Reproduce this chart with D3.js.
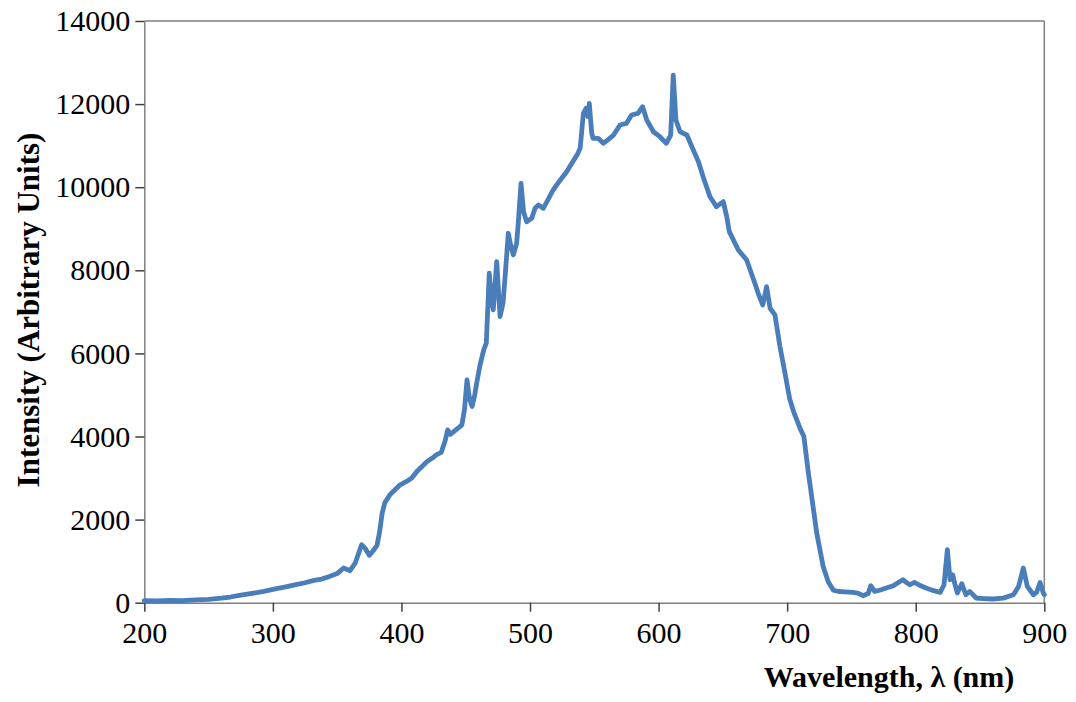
<!DOCTYPE html>
<html>
<head>
<meta charset="utf-8">
<script src="https://cdn.jsdelivr.net/npm/d3@7"></script>
<style>
  html, body { margin: 0; padding: 0; background: #fff; }
  svg { display: block; }
  text { font-family: "Liberation Serif", "Times New Roman", serif; fill: #000; }
</style>
</head>
<body>
<svg id="chart" width="1076" height="702"></svg>
<script>
const wavelengths = [200,210,220,230,240,250,260,267,275,285,293,300,310,318,325,332,338,344,350,355,360,364,369,372,375,378,381,383,385,387,391,395,399,404,408,412,416,420,424,427,431,434,436,438,440,444,447,449,451,453,455,457,458.5,461,464,466,468.3,470,471.4,474.1,476.7,479,481,483.1,485,487,489.6,491,493,495,497.4,501.3,504,506.5,510.3,514,518,523,528.5,533,537,539,541.5,543.6,545,546.1,548,549,553,557,561,565,570,575,579,584,587.6,590.8,596,601,606,609.4,611.4,613.5,616.7,622,627,631,635,640,645,648,650.3,653,655,662,668.5,674,678,681,684,686.7,690.5,694.4,698.3,702,705,710,713,716.5,718,723,728,732,736,740,745,751,755,759,763,765,768,772,777,782,785,790,793,795.5,799,803,808,814,819,822,824.6,826.7,828.8,830,832.4,835.8,839,842,847,853,860,868,876,880,883.7,886.8,891.5,894,896.7,899,900];
const intensities = [50,45,55,50,70,80,110,137,180,230,272,320,380,433,480,537,570,633,700,834,770,950,1395,1300,1140,1250,1380,1700,2157,2400,2600,2720,2838,2918,3000,3158,3280,3398,3480,3559,3620,3900,4160,4050,4100,4200,4281,4640,5360,4900,4720,5000,5280,5700,6085,6245,7930,7300,7050,8210,6886,7208,8000,8891,8600,8370,8651,9200,10094,9400,9170,9251,9500,9572,9492,9700,9933,10150,10373,10600,10800,10935,11777,11897,11700,12017,11300,11176,11176,11056,11150,11256,11496,11537,11737,11777,11937,11616,11335,11215,11056,11256,12698,11616,11335,11256,10895,10614,10214,9772,9531,9600,9652,9291,8930,8490,8249,7768,7400,7167,7607,7087,6926,6164,5524,4900,4600,4200,4000,3119,2797,1676,873,500,300,270,260,248,230,168,220,409,272,300,352,400,457,553,480,433,488,420,353,290,248,433,1275,553,673,500,233,457,192,272,113,100,89,110,192,392,834,392,192,250,488,250,192];
const xTicks = [200,300,400,500,600,700,800,900];
const yTicks = [0,2000,4000,6000,8000,10000,12000,14000];
const xTitle = "Wavelength, λ (nm)";
const yTitle = "Intensity (Arbitrary Units)";

const svg = d3.select("#chart");
const mLeft = 144.3, mRight = 1044.3, mTop = 21, mBottom = 602.7;
const x = d3.scaleLinear().domain([200, 900]).range([mLeft, mRight]);
const y = d3.scaleLinear().domain([0, 14000]).range([mBottom, mTop]);
const axisColor = "#7f7f7f";

// frame (top & right)
svg.append("line").attr("x1", mLeft).attr("x2", mRight).attr("y1", mTop).attr("y2", mTop)
  .attr("stroke", axisColor).attr("stroke-width", 1.5);
svg.append("line").attr("x1", mRight).attr("x2", mRight).attr("y1", mTop).attr("y2", mBottom)
  .attr("stroke", axisColor).attr("stroke-width", 1.5);

const xAxis = svg.append("g").attr("transform", `translate(0,${mBottom})`)
  .call(d3.axisBottom(x).tickValues(xTicks).tickSize(9).tickSizeOuter(0).tickPadding(10).tickFormat(d3.format("d")));
const yAxis = svg.append("g").attr("transform", `translate(${mLeft},0)`)
  .call(d3.axisLeft(y).tickValues(yTicks).tickSize(9).tickSizeOuter(0).tickPadding(5).tickFormat(d3.format("d")));
[xAxis, yAxis].forEach(g => {
  g.attr("font-family", null);
  g.select(".domain").attr("stroke", axisColor).attr("stroke-width", 1.5);
  g.selectAll(".tick line").attr("stroke", "#404040").attr("stroke-width", 1.5);
  g.selectAll(".tick text").style("font-family", "'Liberation Serif', serif").attr("font-size", 30).attr("fill", "#000");
});

const data = wavelengths.map((w, i) => [w, intensities[i]]);
const line = d3.line().x(d => x(d[0])).y(d => y(d[1])).curve(d3.curveLinear);
svg.append("path").datum(data).attr("d", line)
  .attr("fill", "none").attr("stroke", "#4a7ebb").attr("stroke-width", 4.8)
  .attr("stroke-linejoin", "round").attr("stroke-linecap", "round");

svg.append("text").attr("x", 889).attr("y", 687).attr("text-anchor", "middle")
  .attr("font-size", 30).attr("font-weight", "bold").text(xTitle);
svg.append("text").attr("transform", "translate(39,310) rotate(-90)").attr("text-anchor", "middle")
  .attr("font-size", 31).attr("font-weight", "bold").text(yTitle);
</script>
</body>
</html>
